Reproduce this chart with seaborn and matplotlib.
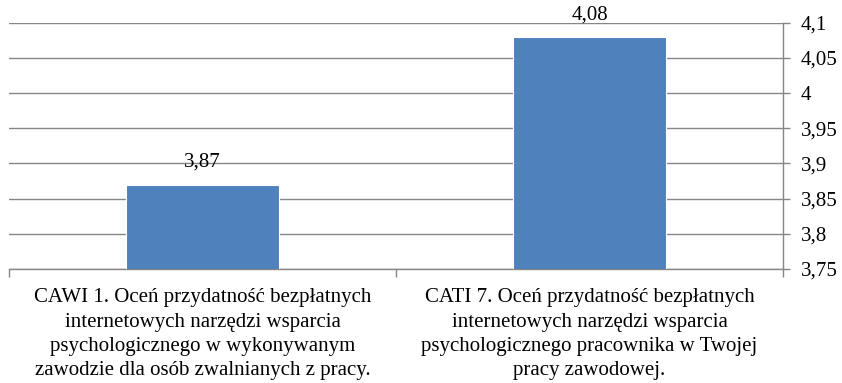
import matplotlib
matplotlib.use("Agg")
import matplotlib.pyplot as plt
import seaborn as sns
import pandas as pd
from matplotlib.ticker import FixedLocator, FuncFormatter

categories = [
    "CAWI 1. Oceń przydatność bezpłatnych\ninternetowych narzędzi wsparcia\npsychologicznego w wykonywanym\nzawodzie dla osób zwalnianych z pracy.",
    "CATI 7. Oceń przydatność bezpłatnych\ninternetowych narzędzi wsparcia\npsychologicznego pracownika w Twojej\npracy zawodowej.",
]
values = [3.87, 4.08]
y_ticks = [3.75, 3.8, 3.85, 3.9, 3.95, 4.0, 4.05, 4.1]

sns.set_theme(style="white")
plt.rcParams["font.family"] = ["Liberation Serif", "DejaVu Serif"]

df = pd.DataFrame({"kategoria": categories, "wartosc": values})

fig = plt.figure(figsize=(8.42, 3.83), dpi=100)
ax = fig.add_axes([9 / 842, 1 - 269 / 383, (783 - 9) / 842, (269 - 22.7) / 383])

grid_color = "#868686"
sns.barplot(data=df, x="kategoria", y="wartosc", color="#4F81BD", saturation=1,
            width=0.395, edgecolor="white", linewidth=0.8, ax=ax, zorder=3)

ax.set_ylim(3.75, 4.1)
ax.set_xlim(-0.5, 1.5)
ax.yaxis.tick_right()
ax.yaxis.set_major_locator(FixedLocator(y_ticks))
ax.yaxis.set_major_formatter(FuncFormatter(lambda v, p: f"{v:g}".replace(".", ",")))
ax.tick_params(axis="y", which="major", length=5, width=1, color=grid_color,
               labelsize=15, pad=8, labelcolor="black", right=True, left=False)
ax.grid(axis="y", color=grid_color, linewidth=1.0, zorder=0)
ax.set_axisbelow(True)

# category labels centred, boundary ticks between categories
ax.set_xticks([0, 1])
ax.set_xticklabels(categories, fontsize=15, linespacing=1.38)
ax.tick_params(axis="x", which="major", length=0, pad=14, labelcolor="black")
ax.set_xticks([-0.5, 0.5, 1.5], minor=True)
ax.tick_params(axis="x", which="minor", length=6, width=1, color=grid_color,
               direction="out", bottom=True)

ax.set_xlabel("")
ax.set_ylabel("")

for side in ["left", "top"]:
    ax.spines[side].set_visible(False)
for side in ["right", "bottom"]:
    ax.spines[side].set_color(grid_color)
    ax.spines[side].set_linewidth(1.0)

for i, v in enumerate(values):
    ax.text(i, v + 0.018, f"{v:.2f}".replace(".", ","), ha="center", va="bottom",
            fontsize=15, color="black")

fig.savefig("out.png", dpi=100)
